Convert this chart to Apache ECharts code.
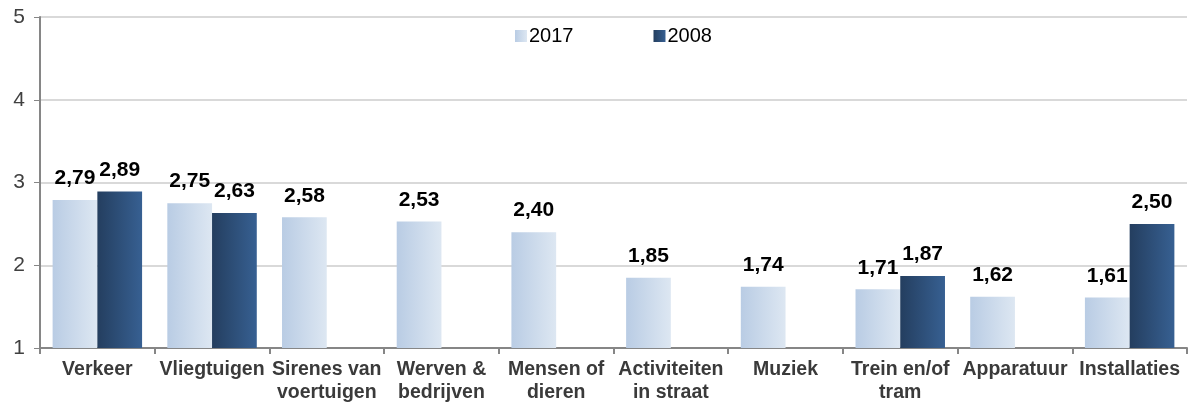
<!DOCTYPE html>
<html>
<head>
<meta charset="UTF-8">
<title>Hinder</title>
<style>
html, body { margin: 0; padding: 0; background: #fff; }
#main { width: 1198px; height: 405px; }
</style>
</head>
<body>
<div id="main"></div>
<script src="https://cdn.jsdelivr.net/npm/echarts@6/dist/echarts.min.js"></script>
<script>
var categories = ['Verkeer', 'Vliegtuigen', 'Sirenes van\nvoertuigen', 'Werven &\nbedrijven', 'Mensen of\ndieren',
	'Activiteiten\nin straat', 'Muziek', 'Trein en/of\ntram', 'Apparatuur', 'Installaties'];
var values2017 = [2.79, 2.75, 2.58, 2.53, 2.40, 1.85, 1.74, 1.71, 1.62, 1.61];
var values2008 = [2.89, 2.63, null, null, null, null, null, 1.87, null, 2.50];
var yTicks = [1, 2, 3, 4, 5];

function grad(a, b) {
	return new echarts.graphic.LinearGradient(0, 0, 1, 0, [
		{ offset: 0, color: a },
		{ offset: 1, color: b }
	]);
}

var labelStyle = {
	show: true,
	position: 'top',
	distance: 11,
	color: '#000',
	fontFamily: 'Liberation Sans, Arial',
	fontWeight: 'bold',
	fontSize: 21,
	formatter: function (p) {
		return p.value == null ? '' : p.value.toFixed(2).replace('.', ',');
	}
};

var myChart = echarts.init(document.getElementById('main'));
var option = {
	animation: false,
	textStyle: { fontFamily: 'Liberation Sans, Arial' },
	legend: {
		top: 21,
		left: 510,
		itemWidth: 12,
		itemHeight: 12,
		itemGap: 80,
		icon: 'rect',
		textStyle: { fontSize: 20, color: '#000', padding: [0, 0, 0, -3] },
		data: ['2017', '2008']
	},
	grid: { left: 40, right: 11, top: 17, bottom: 57 },
	xAxis: {
		type: 'category',
		data: categories,
		axisLine: { lineStyle: { color: '#868686', width: 2 } },
		axisTick: { show: true, length: 6, lineStyle: { color: '#868686', width: 2 } },
		axisLabel: {
			interval: 0,
			color: '#3a3a3a',
			fontWeight: 'bold',
			fontSize: 19.5,
			lineHeight: 23,
			margin: 10
		}
	},
	yAxis: {
		type: 'value',
		min: yTicks[0],
		max: yTicks[yTicks.length - 1],
		interval: 1,
		axisLine: { show: true, lineStyle: { color: '#868686', width: 2 } },
		axisTick: { show: true, length: 6, lineStyle: { color: '#868686', width: 1 } },
		splitLine: { lineStyle: { color: '#d9d9d9', width: 2 } },
		axisLabel: { color: '#404040', fontSize: 21, margin: 15 }
	},
	series: [{
		name: '2017',
		type: 'bar',
		data: values2017,
		barGap: '0%',
		barCategoryGap: '22%',
		itemStyle: { color: grad('#b9cce4', '#dde7f2') },
		label: labelStyle
	}, {
		name: '2008',
		type: 'bar',
		data: values2008,
		itemStyle: { color: grad('#243e5f', '#376092') },
		label: labelStyle
	}]
};
myChart.setOption(option);
</script>
</body>
</html>
